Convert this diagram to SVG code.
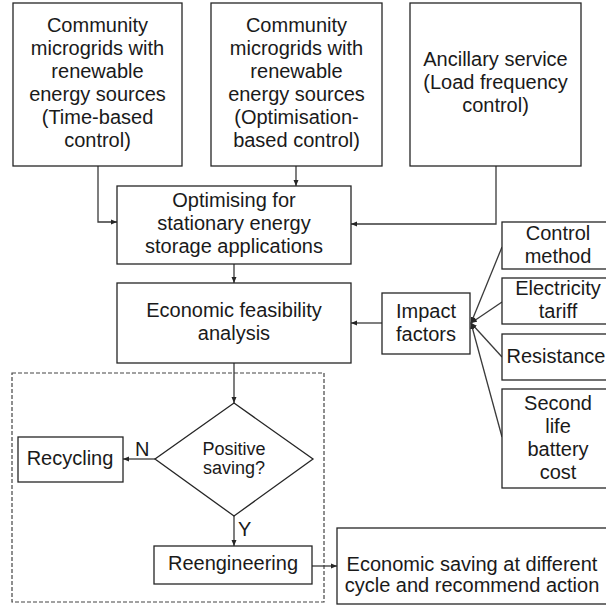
<svg xmlns="http://www.w3.org/2000/svg" width="606" height="607" viewBox="0 0 606 607">
<defs>
<marker id="ah" markerWidth="6" markerHeight="6" refX="6" refY="3" orient="auto" markerUnits="userSpaceOnUse">
<path d="M0,0.5 L6,3 L0,5.5 Z" fill="#262626"/>
</marker>
<style>
.box{fill:#fff;stroke:#262626;stroke-width:1.3}
.t{font-family:"Liberation Sans",Arial,sans-serif;font-size:20px;fill:#1a1a1a;text-anchor:middle}
.s{font-size:18px}
.l{text-anchor:start}
.c{fill:none;stroke:#3a3a3a;stroke-width:1.3}
.a{marker-end:url(#ah)}
.d{fill:none;stroke:#444;stroke-width:1.2;stroke-dasharray:4,2}
</style>
</defs>
<rect width="606" height="607" fill="#fff"/>
<rect class="d" x="12" y="373" width="312" height="229"/>
<g id="connectors">
<polyline class="c a" points="98,166 98,222 117,222"/>
<line class="c a" x1="296" y1="166" x2="296" y2="186"/>
<polyline class="c a" points="496,166 496,224 351,224"/>
<line class="c a" x1="234" y1="264" x2="234" y2="283"/>
<line class="c a" x1="382" y1="323" x2="351" y2="323"/>
<line class="c a" x1="502" y1="247" x2="471" y2="323"/>
<line class="c a" x1="502" y1="302" x2="471" y2="323"/>
<line class="c a" x1="502" y1="357" x2="471" y2="323"/>
<line class="c a" x1="502" y1="437" x2="471" y2="323"/>
<line class="c a" x1="234" y1="363" x2="234" y2="403"/>
<line class="c a" x1="155" y1="459" x2="123" y2="459"/>
<line class="c a" x1="234" y1="516" x2="234" y2="546"/>
<line class="c a" x1="312" y1="566" x2="337" y2="566"/>
<text class="t l" x="135" y="456">N</text>
<text class="t l" x="238" y="536">Y</text>
</g>
<g id="n1">
<rect class="box" x="13" y="3" width="169" height="163"/>
<text class="t" x="97.5" y="32">Community</text>
<text class="t" x="97.5" y="55">microgrids with</text>
<text class="t" x="97.5" y="78">renewable</text>
<text class="t" x="97.5" y="101">energy sources</text>
<text class="t" x="97.5" y="124">(Time-based</text>
<text class="t" x="97.5" y="147">control)</text>
</g>
<g id="n2">
<rect class="box" x="211" y="3" width="171" height="163"/>
<text class="t" x="296.5" y="32">Community</text>
<text class="t" x="296.5" y="55">microgrids with</text>
<text class="t" x="296.5" y="78">renewable</text>
<text class="t" x="296.5" y="101">energy sources</text>
<text class="t" x="296.5" y="124">(Optimisation-</text>
<text class="t" x="296.5" y="147">based control)</text>
</g>
<g id="n3">
<rect class="box" x="410" y="3" width="171" height="163"/>
<text class="t" x="495.5" y="66">Ancillary service</text>
<text class="t" x="495.5" y="89">(Load frequency</text>
<text class="t" x="495.5" y="112">control)</text>
</g>
<g id="n4">
<rect class="box" x="117" y="186" width="234" height="78"/>
<text class="t" x="234" y="207">Optimising for</text>
<text class="t" x="234" y="230">stationary energy</text>
<text class="t" x="234" y="253">storage applications</text>
</g>
<g id="n5">
<rect class="box" x="117" y="283" width="234" height="80"/>
<text class="t" x="234" y="317">Economic feasibility</text>
<text class="t" x="234" y="340">analysis</text>
</g>
<g id="n6">
<rect class="box" x="382" y="293" width="88" height="61"/>
<text class="t" x="426" y="318">Impact</text>
<text class="t" x="426" y="341">factors</text>
</g>
<g id="n7">
<rect class="box" x="502" y="222" width="110" height="47"/>
<text class="t" x="558" y="240">Control</text>
<text class="t" x="558" y="263">method</text>
</g>
<g id="n8">
<rect class="box" x="502" y="278" width="110" height="46"/>
<text class="t" x="558" y="295">Electricity</text>
<text class="t" x="558" y="318">tariff</text>
</g>
<g id="n9">
<rect class="box" x="502" y="334" width="110" height="46"/>
<text class="t" x="556" y="363">Resistance</text>
</g>
<g id="n10">
<rect class="box" x="502" y="389" width="110" height="99"/>
<text class="t" x="558" y="410">Second</text>
<text class="t" x="558" y="433">life</text>
<text class="t" x="558" y="456">battery</text>
<text class="t" x="558" y="479">cost</text>
</g>
<g id="n11">
<polygon class="box" points="234,403 313,459 234,516 155,459"/>
<text class="t s" x="234" y="455">Positive</text>
<text class="t s" x="234" y="474">saving?</text>
</g>
<g id="n12">
<rect class="box" x="18" y="437" width="105" height="45"/>
<text class="t" x="70" y="465">Recycling</text>
</g>
<g id="n13">
<rect class="box" x="154" y="546" width="158" height="38"/>
<text class="t" x="233" y="570">Reengineering</text>
</g>
<g id="n14">
<rect class="box" x="337" y="528" width="275" height="76"/>
<text class="t" x="472" y="571">Economic saving at different</text>
<text class="t" x="472" y="592">cycle and recommend action</text>
</g>
</svg>
